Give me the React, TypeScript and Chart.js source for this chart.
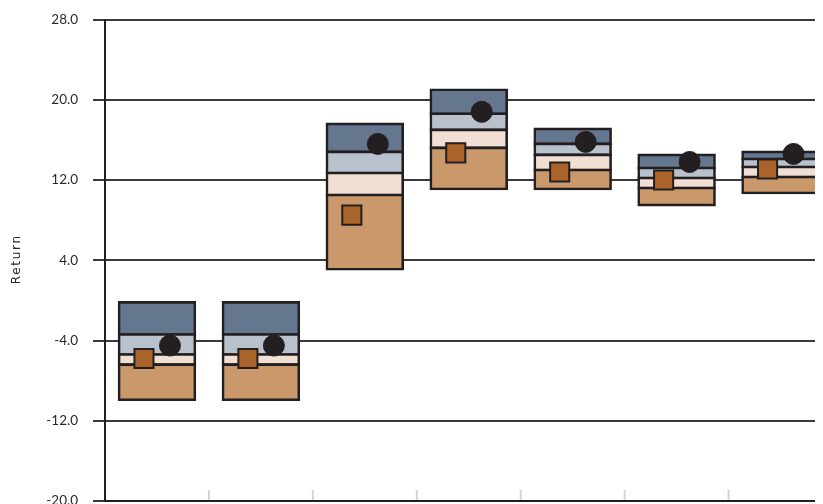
import React, { useEffect, useRef } from "react";
import { Chart, registerables } from "chart.js";

Chart.register(...registerables);

const categories = ["1", "2", "3", "4", "5", "6", "7"];
const p5 = [-9.9, -9.9, 3.1, 11.1, 11.1, 9.5, 10.7];
const p25 = [-6.4, -6.4, 10.5, 15.2, 13.0, 11.2, 12.3];
const p50 = [-5.4, -5.4, 12.7, 17.0, 14.5, 12.2, 13.3];
const p75 = [-3.4, -3.4, 14.8, 18.6, 15.6, 13.2, 14.1];
const p95 = [-0.2, -0.2, 17.6, 21.0, 17.1, 14.5, 14.8];
const circleValues = [-4.5, -4.5, 15.6, 18.8, 15.8, 13.8, 14.6];
const squareValues = [-5.8, -5.8, 8.5, 14.7, 12.8, 12.0, 13.1];
const yTicks = [-20, -12, -4, 4, 12, 20, 28];
const yTitle = "Return";

const POINT_SHIFT = 0.125;
const EDGE = "#231f20";
const BW = 2.6;

const extras = {
  id: "extras",
  afterDatasetsDraw(chart: any) {
    const x = chart.scales.x;
    const area = chart.chartArea;
    const ctx = chart.ctx;
    ctx.save();
    ctx.strokeStyle = "#d4d4d4";
    ctx.lineWidth = 2;
    for (let i = 1; i < categories.length; i++) {
      const px = (x.getPixelForValue(i - 1) + x.getPixelForValue(i)) / 2;
      ctx.beginPath();
      ctx.moveTo(px, area.bottom - 1);
      ctx.lineTo(px, area.bottom - 11);
      ctx.stroke();
    }
    ctx.restore();
  },
  afterDraw(chart: any) {
    const ctx = chart.ctx;
    const area = chart.chartArea;
    const y = chart.scales.y;
    ctx.save();
    (ctx as any).letterSpacing = "1.7px";
    ctx.font = "12px 'DejaVu Sans'";
    ctx.fillStyle = "#2a2a2a";
    ctx.textAlign = "center";
    ctx.textBaseline = "middle";
    ctx.translate(y.left + 9, (area.top + area.bottom) / 2);
    ctx.rotate(-Math.PI / 2);
    ctx.fillText(yTitle, 1, 0);
    ctx.restore();
  },
};

export default function App() {
  const ref = useRef<HTMLCanvasElement | null>(null);
  useEffect(() => {
    if (!ref.current) return;
    const seg = (lo: number[], hi: number[], color: string) => ({
      type: "bar" as const,
      data: lo.map((v, i) => [v, hi[i]]),
      backgroundColor: color,
      borderColor: EDGE,
      borderWidth: BW,
      inflateAmount: BW / 2,
      borderSkipped: false,
      grouped: false,
      barPercentage: 0.73,
      categoryPercentage: 1,
      order: 2,
    });
    const chart = new Chart(ref.current, {
      type: "bar",
      data: {
        labels: categories,
        datasets: [
          seg(p5, p25, "#c9996b"),
          seg(p25, p50, "#f0dfd2"),
          seg(p50, p75, "#b9c1cc"),
          seg(p75, p95, "#64778f"),
          {
            type: "scatter",
            xAxisID: "x2",
            data: squareValues.map((v, i) => ({ x: i - POINT_SHIFT, y: v })),
            pointStyle: "rect",
            pointRadius: 13.5,
            backgroundColor: "#aa642b",
            borderColor: EDGE,
            borderWidth: 2,
            order: 1,
          } as any,
          {
            type: "scatter",
            xAxisID: "x2",
            data: circleValues.map((v, i) => ({ x: i + POINT_SHIFT, y: v })),
            pointStyle: "circle",
            pointRadius: 10.5,
            backgroundColor: EDGE,
            borderColor: EDGE,
            borderWidth: 1,
            order: 0,
          } as any,
        ],
      },
      options: {
        animation: false,
        responsive: true,
        maintainAspectRatio: false,
        layout: { padding: { top: 6, right: 11, bottom: 23, left: 0 } },
        plugins: { legend: { display: false }, tooltip: { enabled: false } },
        scales: {
          x: {
            type: "category",
            offset: true,
            grid: { display: false, drawTicks: false },
            ticks: { display: false },
            border: { display: true, color: EDGE, width: 2 },
          },
          x2: {
            type: "linear",
            display: false,
            offset: false,
            bounds: "data",
            grace: 0,
            min: -0.5,
            max: categories.length - 0.5,
            afterDataLimits: (s: any) => {
              s.min = -0.5;
              s.max = categories.length - 0.5;
            },
          } as any,
          y: {
            min: yTicks[0],
            max: yTicks[yTicks.length - 1],
            afterBuildTicks: (scale: any) => {
              scale.ticks = yTicks.map((v) => ({ value: v }));
            },
            afterFit: (scale: any) => {
              scale.width = 97;
              scale.paddingTop = 0;
              scale.paddingBottom = 0;
            },
            ticks: {
              padding: 15,
              color: "#2a2a2a",
              font: { family: "Lato", size: 13.5 },
              callback: (v: any) => Number(v).toFixed(1),
            },
            grid: {
              color: "#3a3a3a",
              lineWidth: 2,
              tickLength: 12,
              drawTicks: true,
            },
            border: { display: true, color: EDGE, width: 2 },
            title: { display: false, text: yTitle },
          },
        },
      },
      plugins: [extras],
    });
    return () => chart.destroy();
  }, []);
  return (
    <div style={{ width: 840, height: 520, position: "relative", marginTop: -4 }}>
      <canvas ref={ref} />
    </div>
  );
}
